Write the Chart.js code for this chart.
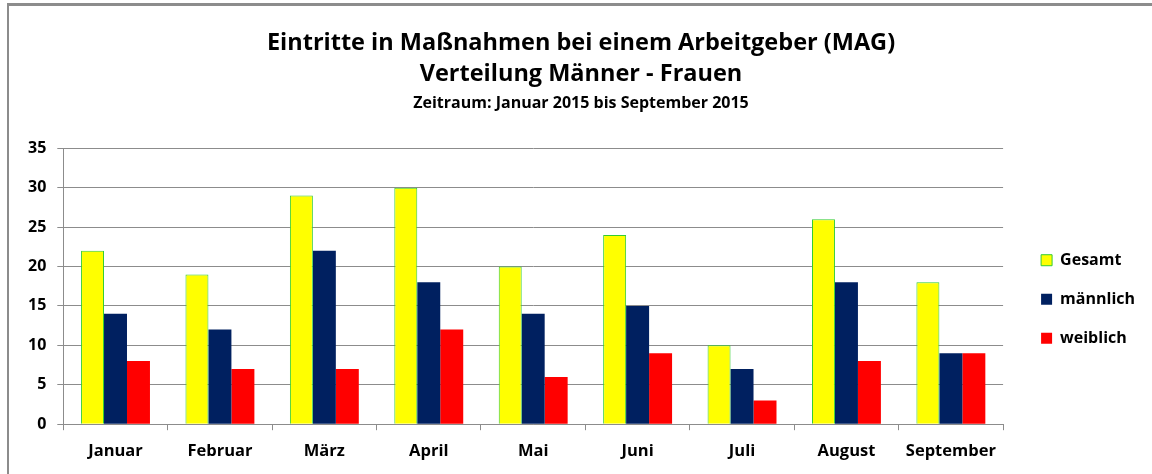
<!DOCTYPE html>
<html lang="de">
<head>
    <meta charset="UTF-8">
    <title>Eintritte in Maßnahmen bei einem Arbeitgeber (MAG)</title>
    <script src="https://cdn.jsdelivr.net/npm/chart.js"></script>
    <style>
        html, body {
            margin: 0;
            padding: 0;
            background: #ffffff;
            overflow: hidden;
        }
        .frame {
            position: absolute;
            left: 7px;
            top: 3px;
            width: 1145px;
            height: 471px;
            border-top: 3px solid #8c8c8c;
            border-left: 2px solid #8c8c8c;
            box-sizing: border-box;
        }
        .chart-box {
            position: absolute;
            left: 0;
            top: 0;
            width: 1143px;
            height: 468px;
        }
    </style>
</head>
<body>
    <div class="frame">
        <div class="chart-box">
            <canvas id="magChart"></canvas>
        </div>
    </div>

    <script>
        const monate = ['Januar', 'Februar', 'März', 'April', 'Mai', 'Juni', 'Juli', 'August', 'September'];
        const gesamt = [22, 19, 29, 30, 20, 24, 10, 26, 18];
        const maennlich = [14, 12, 22, 18, 14, 15, 7, 18, 9];
        const weiblich = [8, 7, 7, 12, 6, 9, 3, 8, 9];

        const schrift = '"Open Sans", "DejaVu Sans", sans-serif';
        const gitterFarbe = '#8c8c8c';

        const ctx = document.getElementById('magChart').getContext('2d');
        const magChart = new Chart(ctx, {
            type: 'bar',
            data: {
                labels: monate,
                datasets: [{
                    label: 'Gesamt',
                    data: gesamt,
                    yAxisID: 'y',
                    backgroundColor: '#ffff00',
                    borderColor: '#33cc33',
                    borderWidth: 1
                }, {
                    label: 'männlich',
                    data: maennlich,
                    yAxisID: 'y',
                    backgroundColor: '#002060',
                    borderColor: '#002060',
                    borderWidth: 0
                }, {
                    label: 'weiblich',
                    data: weiblich,
                    yAxisID: 'y',
                    backgroundColor: '#ff0000',
                    borderColor: '#ff0000',
                    borderWidth: 0
                }]
            },
            options: {
                responsive: true,
                maintainAspectRatio: false,
                animation: false,
                layout: {
                    padding: { left: 8, right: 7, top: 22, bottom: 2 }
                },
                datasets: {
                    bar: {
                        categoryPercentage: 0.66,
                        barPercentage: 1.0
                    }
                },
                plugins: {
                    title: {
                        display: true,
                        text: ['Eintritte in Maßnahmen bei einem Arbeitgeber (MAG)', 'Verteilung Männer - Frauen'],
                        color: '#000000',
                        font: { family: schrift, size: 23.5, weight: 'bold', lineHeight: 1.32 },
                        padding: { top: 0, bottom: 0 }
                    },
                    subtitle: {
                        display: true,
                        text: 'Zeitraum: Januar 2015 bis September 2015',
                        color: '#000000',
                        font: { family: schrift, size: 16, weight: 'bold' },
                        padding: { top: 4, bottom: 35 }
                    },
                    legend: {
                        position: 'right',
                        fullSize: false,
                        title: {
                            display: true,
                            text: '',
                            font: { size: 10, lineHeight: 2.6 },
                            padding: 0
                        },
                        labels: {
                            color: '#000000',
                            font: { family: schrift, size: 16, weight: 'bold' },
                            boxWidth: 11,
                            boxHeight: 11,
                            padding: 23
                        }
                    },
                    tooltip: { enabled: false }
                },
                scales: {
                    x: {
                        grid: {
                            drawOnChartArea: false,
                            drawTicks: true,
                            tickLength: 6,
                            color: gitterFarbe
                        },
                        border: { color: gitterFarbe, width: 1 },
                        ticks: {
                            color: '#000000',
                            font: { family: schrift, size: 16.5, weight: 'bold' },
                            padding: 11
                        }
                    },
                    y: {
                        min: 0,
                        max: 35,
                        ticks: {
                            stepSize: 5,
                            color: '#000000',
                            font: { family: schrift, size: 16, weight: 'bold' },
                            padding: 11
                        },
                        grid: {
                            color: gitterFarbe,
                            tickLength: 6
                        },
                        border: { color: gitterFarbe, width: 1 }
                    },
                    // leerer Abstand zwischen Diagramm und Legende
                    abstand: {
                        axis: 'y',
                        position: 'right',
                        grid: { display: false },
                        border: { display: false },
                        ticks: { display: false },
                        afterFit: function(scale) { scale.width = 15; }
                    }
                }
            }
        });
    </script>
</body>
</html>
